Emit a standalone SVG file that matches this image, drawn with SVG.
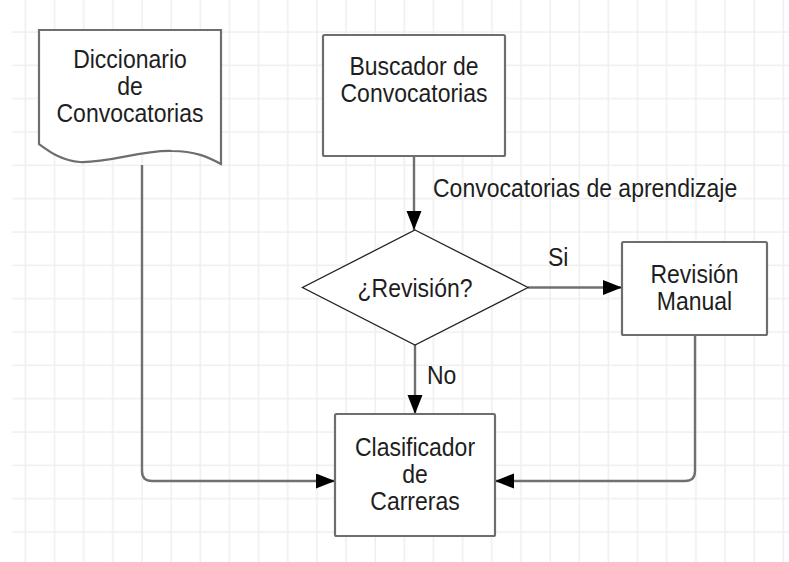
<svg xmlns="http://www.w3.org/2000/svg" width="789" height="562" viewBox="0 0 789 562">
<style>
.box{fill:#fff;stroke:#6e6e6e;stroke-width:2.2}
.dia{fill:#fff;stroke:#222;stroke-width:1.3}
.con{fill:none;stroke:#707070;stroke-width:2.4;marker-end:url(#arr)}
.t{font-family:"Liberation Sans",Arial,sans-serif;font-size:25px;fill:#1e1e1e}
.m{text-anchor:middle}
</style>
<defs>
<pattern id="grid" patternUnits="userSpaceOnUse" x="15.5" y="22" width="29.15" height="33.333">
<path d="M10,0V33.333M0,10H29.15" stroke="#efefef" stroke-width="1.6" fill="none"/>
</pattern>
<marker id="arr" markerUnits="userSpaceOnUse" markerWidth="20" markerHeight="16" refX="19" refY="7.5" orient="auto">
<path d="M0,0L19,7.5L0,15z" fill="#000"/>
</marker>
</defs>
<rect width="789" height="562" fill="#fff"/>
<rect x="12" y="0" width="777" height="562" fill="url(#grid)"/>
<g id="connectors">
<path class="con" d="M414,156V230"/>
<path class="con" d="M528,287.5H622"/>
<path class="con" d="M415,345V414"/>
<path class="con" d="M142,165V471Q142,481 152,481H335"/>
<path class="con" d="M695,335V471Q695,481 685,481H495"/>
</g>
<g id="diccionario">
<path class="box" d="M39,30H221V164C208,157 195,151 172,151C140,150 110,163 80,162C62,161 50,152 39,144Z"/>
<g transform="translate(130,0) scale(0.92,1)">
<text class="t m" x="0" y="68">Diccionario</text>
<text class="t m" x="0" y="95">de</text>
<text class="t m" x="0" y="122">Convocatorias</text>
</g>
</g>
<g id="buscador">
<rect class="box" x="323" y="35" width="182" height="121" rx="1.5"/>
<g transform="translate(414,0) scale(0.92,1)">
<text class="t m" x="0" y="75">Buscador de</text>
<text class="t m" x="0" y="102">Convocatorias</text>
</g>
</g>
<g id="label-convocatorias">
<g transform="translate(433,0) scale(0.92,1)">
<text class="t" x="0" y="197">Convocatorias de aprendizaje</text>
</g>
</g>
<g id="revision-decision">
<path class="dia" d="M415,230L528,287.5L415,345L302.5,287.5Z"/>
<g transform="translate(415,0) scale(0.92,1)">
<text class="t m" x="0" y="297">¿Revisión?</text>
</g>
</g>
<g id="label-si">
<g transform="translate(548,0) scale(0.92,1)">
<text class="t" x="0" y="266">Si</text>
</g>
</g>
<g id="label-no">
<g transform="translate(427,0) scale(0.92,1)">
<text class="t" x="0" y="384">No</text>
</g>
</g>
<g id="revision-manual">
<rect class="box" x="622" y="242" width="145" height="93" rx="1.5"/>
<g transform="translate(694.5,0) scale(0.92,1)">
<text class="t m" x="0" y="283">Revisión</text>
<text class="t m" x="0" y="310">Manual</text>
</g>
</g>
<g id="clasificador">
<rect class="box" x="335" y="414" width="160" height="122" rx="1.5"/>
<g transform="translate(415,0) scale(0.92,1)">
<text class="t m" x="0" y="456">Clasificador</text>
<text class="t m" x="0" y="483">de</text>
<text class="t m" x="0" y="510">Carreras</text>
</g>
</g>
</svg>
